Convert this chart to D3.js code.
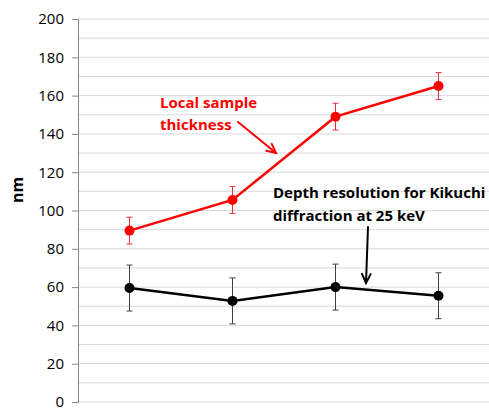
<!DOCTYPE html>
<html>
<head>
<meta charset="utf-8">
<script src="https://cdn.jsdelivr.net/npm/d3@7"></script>
<style>
  body { margin: 0; background: #fff; }
  svg { display: block; }
</style>
</head>
<body>
<div id="chart"></div>
<script>
const categories = ['A', 'B', 'C', 'D']
const thickness = [89.5, 105.5, 149, 165]
const thicknessErr = [7, 7, 7, 7]
const depthRes = [59.5, 52.8, 60, 55.5]
const depthResErr = [12, 12, 12, 12]
const yTicks = [0, 20, 40, 60, 80, 100, 120, 140, 160, 180, 200]
const gridValues = d3.range(0, 201, 10)

const width = 489
const height = 410
const margin = { top: 19, right: 0, bottom: 8, left: 78 }
const font = "'Open Sans', sans-serif"

const svg = d3.select('#chart').append('svg')
  .attr('width', width)
  .attr('height', height)

const x = d3.scaleBand()
  .domain(categories)
  .range([margin.left, width + 1])

const y = d3.scaleLinear()
  .domain([0, 200])
  .range([height - margin.bottom, margin.top])

// gridlines
svg.append('g')
  .selectAll('line')
  .data(gridValues)
  .join('line')
  .attr('x1', margin.left)
  .attr('x2', width)
  .attr('y1', d => y(d))
  .attr('y2', d => y(d))
  .attr('stroke', '#d9d9d9')
  .attr('stroke-width', 1)

// y axis
const yAxisG = svg.append('g')
  .attr('transform', `translate(${margin.left},0)`)
  .call(d3.axisLeft(y).tickValues(yTicks).tickSize(6).tickPadding(8))
yAxisG.select('.domain').attr('stroke', '#868686')
yAxisG.selectAll('.tick line').attr('stroke', '#868686')
yAxisG.selectAll('.tick text')
  .attr('font-family', font)
  .attr('font-size', 15)
  .attr('fill', '#000')

svg.append('text')
  .attr('transform', `translate(23,190) rotate(-90)`)
  .attr('text-anchor', 'middle')
  .attr('font-family', font)
  .attr('font-weight', 'bold')
  .attr('font-size', 16)
  .text('nm')

const cx = d => x(d) + x.bandwidth() / 2

function drawSeries(values, errs, color, errColor) {
  const pts = categories.map((c, i) => ({ c, v: values[i], e: errs[i] }))
  const g = svg.append('g')
  // error bars
  const eb = g.selectAll('g.err')
    .data(pts)
    .join('g')
    .attr('stroke', errColor)
    .attr('stroke-width', 1)
  eb.append('line')
    .attr('x1', d => cx(d.c)).attr('x2', d => cx(d.c))
    .attr('y1', d => y(d.v - d.e)).attr('y2', d => y(d.v + d.e))
  eb.append('line')
    .attr('x1', d => cx(d.c) - 3).attr('x2', d => cx(d.c) + 3)
    .attr('y1', d => y(d.v + d.e)).attr('y2', d => y(d.v + d.e))
  eb.append('line')
    .attr('x1', d => cx(d.c) - 3).attr('x2', d => cx(d.c) + 3)
    .attr('y1', d => y(d.v - d.e)).attr('y2', d => y(d.v - d.e))

  g.append('path')
    .datum(pts)
    .attr('fill', 'none')
    .attr('stroke', color)
    .attr('stroke-width', 2.5)
    .attr('d', d3.line().x(d => cx(d.c)).y(d => y(d.v)))

  g.selectAll('circle')
    .data(pts)
    .join('circle')
    .attr('cx', d => cx(d.c))
    .attr('cy', d => y(d.v))
    .attr('r', 5)
    .attr('fill', color)
}

drawSeries(depthRes, depthResErr, '#000', '#404040')
drawSeries(thickness, thicknessErr, '#ff0000', '#e8303a')

// annotations
const redNote = svg.append('text')
  .attr('font-family', font)
  .attr('font-weight', 'bold')
  .attr('font-size', 15)
  .attr('fill', '#ff0000')
redNote.append('tspan').attr('x', 160).attr('y', 108).text('Local sample')
redNote.append('tspan').attr('x', 160).attr('y', 130).text('thickness')

const blackNote = svg.append('text')
  .attr('font-family', font)
  .attr('font-weight', 'bold')
  .attr('font-size', 15)
  .attr('fill', '#000')
blackNote.append('tspan').attr('x', 273).attr('y', 198).text('Depth resolution for Kikuchi')
blackNote.append('tspan').attr('x', 273).attr('y', 221).text('diffraction at 25 keV')

function arrow(x1, y1, x2, y2, color, width) {
  const ang = Math.atan2(y2 - y1, x2 - x1)
  const len = 10
  const spread = 0.45
  const g = svg.append('g')
    .attr('stroke', color)
    .attr('stroke-width', width)
    .attr('fill', 'none')
    .attr('stroke-linecap', 'round')
  g.append('line').attr('x1', x1).attr('y1', y1).attr('x2', x2).attr('y2', y2)
  g.append('path')
    .attr('d', `M${x2 - len * Math.cos(ang - spread)},${y2 - len * Math.sin(ang - spread)}L${x2},${y2}L${x2 - len * Math.cos(ang + spread)},${y2 - len * Math.sin(ang + spread)}`)
}

arrow(238, 122, 276, 153, '#ff0000', 2)
arrow(368, 227, 366, 283, '#000', 2)
</script>
</body>
</html>
